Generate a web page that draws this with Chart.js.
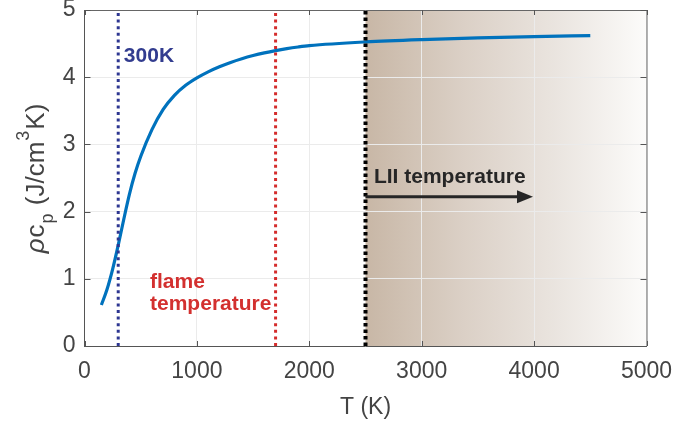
<!DOCTYPE html>
<html>
<head>
<meta charset="utf-8">
<script src="https://cdn.jsdelivr.net/npm/chart.js@4.4.1/dist/chart.umd.min.js"></script>
<style>
    body {
        margin: 0;
        background: #fff;
    }
    #wrap {
        width: 675px;
        height: 427px;
    }
</style>
</head>
<body>
<div id="wrap">
    <canvas id="cpChart" width="675" height="427"></canvas>
</div>
<script>
    // curve: T (K) vs rho*cp (J/cm^3K)
    const temps = [150, 200, 250, 300, 350, 400, 450, 500, 600, 700, 800, 900, 1000, 1100, 1200, 1300, 1400, 1500, 1600, 1700, 1800, 1900, 2000, 2500, 3000, 3500, 4000, 4500]
    const rhoCp = [0.61, 0.84, 1.14, 1.50, 1.89, 2.26, 2.57, 2.82, 3.22, 3.52, 3.73, 3.88, 3.99, 4.08, 4.155, 4.22, 4.275, 4.322, 4.362, 4.396, 4.425, 4.449, 4.469, 4.525, 4.56, 4.585, 4.605, 4.62]

    // vertical markers: 300K, flame, LII start
    const markerTemps = [300, 1700, 2500]
    const markerSpan = [0, 5]
    const shadeRange = [2500, 5000]
    const arrowRange = [2500, 3990]
    const arrowLevel = 2.22

    const xTicks = [0, 1000, 2000, 3000, 4000, 5000]
    const yTicks = [0, 1, 2, 3, 4, 5]

    const FONT = "'Liberation Sans', Arial, Helvetica, sans-serif"
    const markerColors = ['#2d3691', '#d42c2c', '#000000']
    const markerWidths = [3, 3, 4]

    const markerSets = markerTemps.map((t, i) => ({
        label: 'marker' + i,
        data: markerSpan.map(v => ({ x: t, y: v })),
        borderColor: markerColors[i],
        borderWidth: markerWidths[i],
        borderDash: i == 2 ? [3.5, 3] : [3, 3.6],
        borderCapStyle: 'butt',
        pointRadius: 0,
        order: 1
    }))

    const overlay = {
        id: 'overlay',
        beforeDraw(chart) {
            const ctx = chart.ctx
            const a = chart.chartArea
            const x = chart.scales.x
            const x0 = x.getPixelForValue(shadeRange[0])
            const x1 = x.getPixelForValue(shadeRange[1])
            const g = ctx.createLinearGradient(x0, 0, x1, 0)
            g.addColorStop(0, '#c8b7a6')
            g.addColorStop(0.35, '#dbd0c6')
            g.addColorStop(0.7, '#ebe6e1')
            g.addColorStop(1, '#fcfbfa')
            ctx.save()
            ctx.fillStyle = g
            ctx.fillRect(x0, a.top, x1 - x0, a.bottom - a.top)
            ctx.restore()
        },
        afterDraw(chart) {
            const ctx = chart.ctx
            const a = chart.chartArea
            const x = chart.scales.x
            const y = chart.scales.y
            ctx.save()

            // box + inward ticks
            ctx.strokeStyle = '#666'
            ctx.lineWidth = 1
            ctx.beginPath()
            ctx.moveTo(a.left, a.top + 0.5)
            ctx.lineTo(a.right + 0.5, a.top + 0.5)
            ctx.lineTo(a.right + 0.5, a.bottom)
            ctx.stroke()
            ctx.strokeStyle = '#555'
            ctx.beginPath()
            xTicks.forEach(t => {
                const px = Math.round(x.getPixelForValue(t)) + 0.5
                ctx.moveTo(px, a.bottom)
                ctx.lineTo(px, a.bottom - 5)
                ctx.moveTo(px, a.top)
                ctx.lineTo(px, a.top + 5)
            })
            yTicks.forEach(v => {
                const py = Math.round(y.getPixelForValue(v)) + 0.5
                ctx.moveTo(a.left, py)
                ctx.lineTo(a.left + 6, py)
                ctx.moveTo(a.right, py)
                ctx.lineTo(a.right - 6, py)
            })
            ctx.stroke()

            // annotations
            ctx.textAlign = 'left'
            ctx.textBaseline = 'alphabetic'
            ctx.font = 'bold 21px ' + FONT
            ctx.fillStyle = '#323c8f'
            ctx.fillText('300K', x.getPixelForValue(350), y.getPixelForValue(4.23))
            ctx.fillStyle = '#d3302f'
            ctx.fillText('flame', x.getPixelForValue(583), y.getPixelForValue(0.86))
            ctx.fillText('temperature', x.getPixelForValue(583), y.getPixelForValue(0.53))
            ctx.fillStyle = '#262626'
            ctx.fillText('LII temperature', x.getPixelForValue(2575), y.getPixelForValue(2.43))

            // arrow
            const ay = y.getPixelForValue(arrowLevel)
            const ax0 = x.getPixelForValue(arrowRange[0])
            const ax1 = x.getPixelForValue(arrowRange[1])
            ctx.strokeStyle = '#262626'
            ctx.lineWidth = 3
            ctx.beginPath()
            ctx.moveTo(ax0, ay)
            ctx.lineTo(ax1 - 10, ay)
            ctx.stroke()
            ctx.fillStyle = '#262626'
            ctx.beginPath()
            ctx.moveTo(ax1, ay)
            ctx.lineTo(ax1 - 16, ay - 6.5)
            ctx.lineTo(ax1 - 16, ay + 6.5)
            ctx.closePath()
            ctx.fill()

            // axis titles
            ctx.fillStyle = '#444'
            ctx.font = '23px ' + FONT
            ctx.textAlign = 'center'
            ctx.fillText('T (K)', (a.left + a.right) / 2, 414)

            const parts = [
                { t: '\u03C1', s: 26, dy: 0, it: true },
                { t: 'c', s: 26, dy: 0 },
                { t: 'p', s: 18, dy: 9 },
                { t: ' (J/cm', s: 26, dy: 0 },
                { t: '3', s: 18, dy: -15 },
                { t: 'K)', s: 26, dy: 0 }
            ]
            ctx.textAlign = 'left'
            let total = 0
            parts.forEach(p => {
                ctx.font = (p.it ? 'italic ' : '') + p.s + 'px ' + FONT
                p.w = ctx.measureText(p.t).width + 1
                total += p.w
            })
            ctx.translate(44, 178)
            ctx.rotate(-Math.PI / 2)
            let cx = -total / 2
            parts.forEach(p => {
                ctx.font = (p.it ? 'italic ' : '') + p.s + 'px ' + FONT
                ctx.fillText(p.t, cx, p.dy)
                cx += p.w
            })
            ctx.restore()
        }
    }

    const tickFont = { family: FONT, size: 23 }

    const cpChart = new Chart(document.getElementById('cpChart'), {
        type: 'line',
        data: {
            datasets: [{
                label: 'rho cp',
                data: temps.map((t, i) => ({ x: t, y: rhoCp[i] })),
                borderColor: '#0072bd',
                borderWidth: 3.2,
                pointRadius: 0,
                cubicInterpolationMode: 'monotone',
                order: 2
            }].concat(markerSets)
        },
        options: {
            responsive: false,
            animation: false,
            layout: {
                padding: { left: 0, top: 10, right: 28.5, bottom: 0 }
            },
            plugins: {
                legend: { display: false },
                tooltip: { enabled: false }
            },
            scales: {
                x: {
                    type: 'linear',
                    min: 0,
                    max: 5000,
                    ticks: {
                        stepSize: 1000,
                        maxRotation: 0,
                        padding: 12,
                        color: '#444',
                        font: tickFont,
                        callback: (v) => String(v)
                    },
                    grid: { color: '#ebebeb', drawTicks: false },
                    border: { color: '#555', width: 1 },
                    afterFit: (s) => {
                        s.height = 81
                        s.paddingLeft = 0
                        s.paddingRight = 0
                    }
                },
                y: {
                    min: 0,
                    max: 5,
                    ticks: {
                        stepSize: 1,
                        padding: 9,
                        color: '#444',
                        font: tickFont,
                        callback: (v) => String(v)
                    },
                    grid: { color: '#ebebeb', drawTicks: false },
                    border: { color: '#555', width: 1 },
                    afterFit: (s) => {
                        s.width = 84.5
                        s.paddingTop = 0
                        s.paddingBottom = 0
                    }
                }
            }
        },
        plugins: [overlay]
    })
</script>
</body>
</html>
